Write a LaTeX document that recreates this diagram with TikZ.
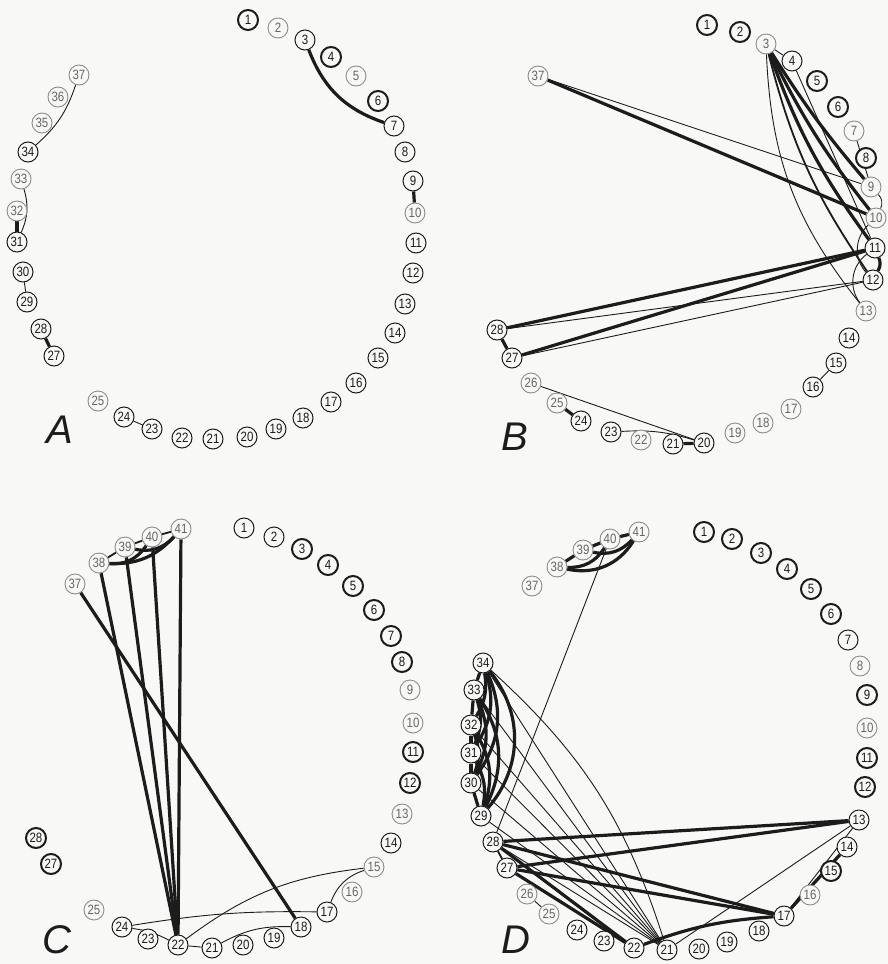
\documentclass[tikz,border=0pt]{standalone}
\usepackage{fontspec}
\setmainfont{Liberation Sans}
\newfontfamily\numfont[FakeStretch=0.85]{Liberation Sans}
\definecolor{paper}{HTML}{F8F8F6}
\definecolor{ink}{HTML}{1C1C1C}
\pgfdeclarelayer{bg}
\pgfsetlayers{bg,main}
\begin{document}
\begin{tikzpicture}[x=1pt,y=-1pt,
  nd/.style={circle,minimum size=20pt,inner sep=0pt,font=\numfont\fontsize{13.5}{13.5}\selectfont,fill=paper},
  nn/.style={nd,draw=ink,line width=1pt,text=ink},
  nb/.style={nd,draw=ink,line width=2pt,text=ink},
  nl/.style={nd,draw=black!45,line width=0.9pt,text=black!60},
  eA/.style={draw=ink,line width=0.9pt},
  eB/.style={draw=ink,line width=1.8pt},
  eC/.style={draw=ink,line width=3.2pt},
  lab/.style={font=\fontsize{40}{40}\selectfont\itshape,text=ink,inner sep=0pt}]
\useasboundingbox (0,0) rectangle (888,964);
\begin{pgfonlayer}{bg}
\fill[paper] (0,0) rectangle (888,964);
\end{pgfonlayer}
% ---------- Panel A ----------
\foreach \n/\x/\y/\s in {1/248/20/nb,2/278/28/nl,3/305/40/nn,4/331/57/nb,5/356/76/nl,6/378/101/nb,7/394/126/nn,8/405/152/nn,9/413/181/nn,10/415/213/nl,11/416/243/nn,12/413/273/nn,13/405/304/nn,14/395/333/nn,15/378/358/nn,16/356/383/nn,17/331/402/nn,18/303/418/nn,19/276/429/nn,20/247/437/nn,21/213/439/nn,22/182/438/nn,23/152/429/nn,24/124/417/nn,25/98/401/nl,27/54/356/nn,28/41/329/nn,29/27/302/nn,30/23/272/nn,31/17/242/nn,32/17/211/nl,33/21/179/nl,34/28/152/nn,35/42/123/nl,36/58/97/nl,37/79/75/nl}
{\edef\tmp{\noexpand\node[\s] (a\n) at (\x,\y) {\n};}\tmp}
\node[lab] (labA) at (60,430) {A};
% ---------- Panel B ----------
\foreach \n/\x/\y/\s in {1/707/25/nb,2/740/32/nb,3/766/44/nl,4/792/61/nn,5/817/81/nb,6/838/107/nb,7/854/131/nl,8/866/158/nb,9/871/187/nl,10/876/218/nl,11/875/248/nn,12/873/280/nn,13/866/311/nl,14/849/338/nn,15/836/363/nn,16/813/387/nn,17/791/409/nl,18/763/423/nl,19/735/433/nl,20/704/443/nn,21/673/444/nn,22/641/440/nl,23/611/432/nn,24/581/421/nn,25/557/403/nl,26/531/383/nl,27/512/358/nn,28/497/330/nn,37/538/76/nl}
{\edef\tmp{\noexpand\node[\s] (b\n) at (\x,\y) {\n};}\tmp}
\node[lab] (labB) at (515,437) {B};
% ---------- Panel C ----------
\foreach \n/\x/\y/\s in {1/244/528/nn,2/274/537/nn,3/302/549/nb,4/328/565/nb,5/353/586/nb,6/374/610/nb,7/391/636/nb,8/402/662/nb,9/410/690/nl,10/413/723/nl,11/413/752/nb,12/410/783/nb,13/402/814/nl,14/391/843/nn,15/374/867/nl,16/352/892/nl,17/327/912/nn,18/301/927/nn,19/274/938/nn,20/243/945/nn,21/212/948/nn,22/178/945/nn,23/148/939/nn,24/122/927/nn,25/94/910/nl,27/51/864/nb,28/36/838/nb,37/75/584/nl,38/99/563/nl,39/125/547/nl,40/152/537/nl,41/181/529/nl}
{\edef\tmp{\noexpand\node[\s] (c\n) at (\x,\y) {\n};}\tmp}
\node[lab] (labC) at (57,940) {C};
% ---------- Panel D ----------
\foreach \n/\x/\y/\s in {1/704/532/nb,2/732/539/nb,3/761/553/nb,4/787/569/nb,5/811/589/nb,6/831/614/nb,7/848/640/nn,8/860/666/nl,9/867/695/nb,10/867/728/nl,11/867/758/nb,12/865/787/nb,13/859/820/nn,14/847/847/nn,15/831/871/nb,16/810/895/nl,17/784/916/nn,18/759/931/nn,19/727/942/nn,20/699/949/nn,21/667/950/nn,22/634/948/nn,23/604/941/nn,24/577/930/nn,25/549/914/nl,26/527/894/nl,27/507/868/nn,28/493/842/nn,29/481/816/nn,30/471/783/nn,31/471/753/nn,32/471/725/nn,33/474/690/nn,34/483/663/nn,37/532/586/nl,38/557/567/nl,39/583/550/nl,40/610/539/nl,41/639/532/nl}
{\edef\tmp{\noexpand\node[\s] (d\n) at (\x,\y) {\n};}\tmp}
\node[lab] (labD) at (516,940) {D};
\begin{pgfonlayer}{bg}
% A edges
\draw[eC] (a3) to[bend right=25] (a7);
\draw[eC] (a9) -- (a10);
\draw[eA] (a37) to[bend left=15] (a34);
\draw[eA] (a33) to[bend left=20] (a31);
\draw[eC] (a32) -- (a31);
\draw[eA] (a30) -- (a29);
\draw[eC] (a28) -- (a27);
\draw[eA] (a24) -- (a23);
% B edges
\draw[eC] (b37) -- (b10);
\draw[eA] (b37) -- (b9);
\draw[eA] (b3) -- (b4);
\draw[eC] (b3) to[bend right=4] (b9);
\draw[eC] (b3) to[bend right=6] (b10);
\draw[eC] (b3) to[bend right=8] (b11);
\draw[eB] (b3) to[bend right=10] (b12);
\draw[eA] (b3) to[bend right=18] (b13);
\draw[eA] (b4) -- (b11);
\draw[eA] (b7) -- (b9);
\draw[eA] (b9) to[bend left=35] (b10);
\draw[eC] (b11) to[bend left=25] (b12);
\draw[eA] (b10) to[bend right=45] (b12);
\draw[eA] (b11) to[bend right=45] (b13);
\draw[eC] (b28) -- (b11);
\draw[eC] (b27) -- (b11);
\draw[eA] (b28) -- (b12);
\draw[eA] (b27) -- (b12);
\draw[eC] (b28) -- (b27);
\draw[eA] (b26) -- (b20);
\draw[eA] (b23) to[bend left=10] (b20);
\draw[eC] (b25) -- (b24);
\draw[eC] (b21) -- (b20);
\draw[eA] (b16) -- (b15);
% C edges
\draw[eB] (c38) -- (c39);
\draw[eB] (c39) -- (c40);
\draw[eB] (c40) -- (c41);
\draw[eC] (c38) to[bend right=30] (c40);
\draw[eC] (c38) to[bend right=25] (c41);
\draw[eC] (c39) to[bend right=30] (c41);
\draw[eC] (c38) -- (c22);
\draw[eC] (c39) -- (c22);
\draw[eC] (c40) -- (c22);
\draw[eC] (c41) -- (c22);
\draw[eC] (c37) -- (c18);
\draw[eA] (c24) to[bend left=5] (c17);
\draw[eA] (c24) to[bend left=10] (c22);
\draw[eA] (c22) to[bend left=15] (c15);
\draw[eA] (c22) -- (c21);
\draw[eA] (c21) to[bend left=15] (c18);
\draw[eA] (c17) to[bend left=25] (c15);
% D edges
\draw[eC] (d38) -- (d39);
\draw[eC] (d39) -- (d40);
\draw[eC] (d40) -- (d41);
\draw[eC] (d38) to[bend right=35] (d41);
\draw[eC] (d38) to[bend right=30] (d40);
\draw[eC] (d39) to[bend right=30] (d41);
\draw[eA] (d40) -- (d28);
\draw[eC] (d34) -- (d33);
\draw[eC] (d33) -- (d32);
\draw[eC] (d32) -- (d31);
\draw[eC] (d31) -- (d30);
\draw[eC] (d30) -- (d29);
\draw[eC] (d34) to[bend left=40] (d29);
\draw[eC] (d34) to[bend left=30] (d30);
\draw[eC] (d34) to[bend left=25] (d31);
\draw[eC] (d34) to[bend left=20] (d32);
\draw[eC] (d33) to[bend left=30] (d29);
\draw[eC] (d33) to[bend left=25] (d30);
\draw[eC] (d33) to[bend left=20] (d31);
\draw[eC] (d32) to[bend left=25] (d29);
\draw[eC] (d32) to[bend left=20] (d30);
\draw[eC] (d31) to[bend left=20] (d29);
\draw[eA] (d34) to[bend left=15] (d21);
\draw[eA] (d34) -- (d21);
\draw[eA] (d33) -- (d21);
\draw[eA] (d32) -- (d21);
\draw[eA] (d31) -- (d21);
\draw[eA] (d30) -- (d21);
\draw[eA] (d29) -- (d21);
\draw[eA] (d28) -- (d21);
\draw[eC] (d28) -- (d13);
\draw[eC] (d27) -- (d13);
\draw[eC] (d28) -- (d17);
\draw[eC] (d27) -- (d17);
\draw[eC] (d28) -- (d22);
\draw[eC] (d27) -- (d22);
\draw[eC] (d22) to[bend left=8] (d17);
\draw[eC] (d17) -- (d14);
\draw[eA] (d13) -- (d21);
\draw[eA] (d13) -- (d17);
\draw[eB] (d28) -- (d27);
\draw[eA] (d26) -- (d25);
\end{pgfonlayer}
\end{tikzpicture}
\end{document}
